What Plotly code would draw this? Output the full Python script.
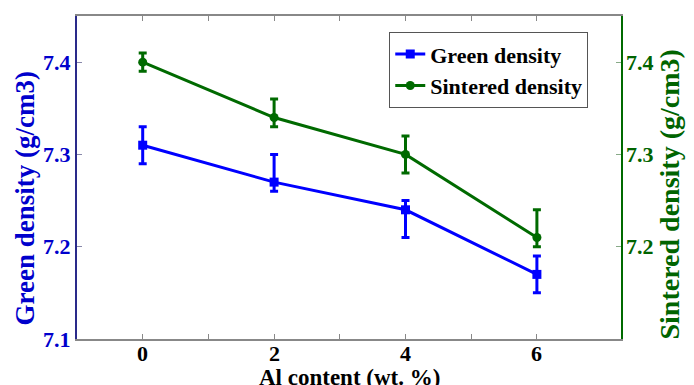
import plotly.graph_objects as go

al_content = [0, 2, 4, 6]
green_density = [7.31, 7.27, 7.24, 7.17]
green_err_plus = [0.02, 0.03, 0.01, 0.02]
green_err_minus = [0.02, 0.01, 0.03, 0.02]
sintered_density = [7.40, 7.34, 7.30, 7.21]
sintered_err_plus = [0.01, 0.02, 0.02, 0.03]
sintered_err_minus = [0.01, 0.01, 0.02, 0.01]

x_tickvals = [0, 1, 2, 3, 4, 5, 6]
x_labelvals = [0, 2, 4, 6]
y_left_ticks = [7.1, 7.2, 7.3, 7.4]
y_right_ticks = [7.2, 7.3, 7.4]

BLUE = "#0000FF"
GREEN = "#006A00"
FONT = "Times New Roman, Liberation Serif, serif"

fig = go.Figure()
fig.add_trace(go.Scatter(
    x=al_content, y=green_density, name="<b>Green density</b>",
    mode="lines+markers",
    line=dict(color=BLUE, width=3),
    marker=dict(symbol="square", size=9, color=BLUE),
    error_y=dict(type="data", symmetric=False, array=green_err_plus,
                 arrayminus=green_err_minus, color=BLUE, thickness=3, width=4),
    yaxis="y",
))
fig.add_trace(go.Scatter(
    x=al_content, y=sintered_density, name="<b>Sintered density</b>",
    mode="lines+markers",
    line=dict(color=GREEN, width=3),
    marker=dict(symbol="circle", size=9, color=GREEN),
    error_y=dict(type="data", symmetric=False, array=sintered_err_plus,
                 arrayminus=sintered_err_minus, color=GREEN, thickness=3, width=4),
    yaxis="y2",
))

annotations = []
for v in x_labelvals:
    annotations.append(dict(
        x=v, y=0, xref="x", yref="paper", yanchor="top", xanchor="center",
        yshift=0, showarrow=False, text="<b>%d</b>" % v,
        font=dict(family=FONT, size=22, color="black")))
for v in y_left_ticks:
    annotations.append(dict(
        x=0, y=v, xref="paper", yref="y", xanchor="right", yanchor="middle",
        xshift=-4, showarrow=False, text="<b>%.1f</b>" % v,
        font=dict(family=FONT, size=22, color="#0000CC")))
for v in y_right_ticks:
    annotations.append(dict(
        x=1, y=v, xref="paper", yref="y2", xanchor="left", yanchor="middle",
        xshift=3, showarrow=False, text="<b>%.1f</b>" % v,
        font=dict(family=FONT, size=22, color="#006400")))
annotations.append(dict(
    x=0.5, y=0, xref="paper", yref="paper", yanchor="top", xanchor="center",
    yshift=-24, showarrow=False, text="<b>Al content (wt. %)</b>",
    font=dict(family=FONT, size=23, color="black")))
annotations.append(dict(
    x=0, y=0.5, xref="paper", yref="paper", xanchor="center", yanchor="middle",
    xshift=-53, yshift=-21, showarrow=False, textangle=-90,
    text="<b>Green density (g/cm3)</b>",
    font=dict(family=FONT, size=27, color="#0000CC")))
annotations.append(dict(
    x=1, y=0.5, xref="paper", yref="paper", xanchor="center", yanchor="middle",
    xshift=48, yshift=-17, showarrow=False, textangle=-90,
    text="<b>Sintered density (g/cm3)</b>",
    font=dict(family=FONT, size=28, color="#006400")))

fig.update_layout(
    width=686, height=377,
    margin=dict(l=69, r=73, t=8, b=46, autoexpand=False),
    paper_bgcolor="white", plot_bgcolor="white",
    font=dict(family=FONT, size=22, color="black"),
    showlegend=True,
    legend=dict(x=0.574, y=0.95, xanchor="left", yanchor="top",
                bordercolor="#555555", borderwidth=1, bgcolor="white",
                font=dict(family=FONT, size=22, color="black"),
                tracegroupgap=0, itemwidth=30),
    annotations=annotations,
    xaxis=dict(
        range=[-1, 7.28], tickvals=x_tickvals, showticklabels=False,
        ticks="inside", ticklen=5, tickcolor="#888888", tickwidth=1,
        showline=True, linecolor="#888888", linewidth=1.5, mirror="ticks",
        showgrid=False, zeroline=False,
    ),
    yaxis=dict(
        range=[7.1, 7.45], tickvals=y_left_ticks, showticklabels=False,
        ticks="inside", ticklen=5, tickcolor="#8888aa", tickwidth=1,
        showline=True, linecolor="#2a2a8a", linewidth=1.5,
        showgrid=False, zeroline=False,
    ),
    yaxis2=dict(
        range=[7.1, 7.45], tickvals=y_right_ticks, showticklabels=False,
        overlaying="y", side="right",
        ticks="inside", ticklen=5, tickcolor="#88aa88", tickwidth=1,
        showline=True, linecolor=GREEN, linewidth=1.5,
        showgrid=False, zeroline=False,
    ),
)

fig.write_html("out.html")
